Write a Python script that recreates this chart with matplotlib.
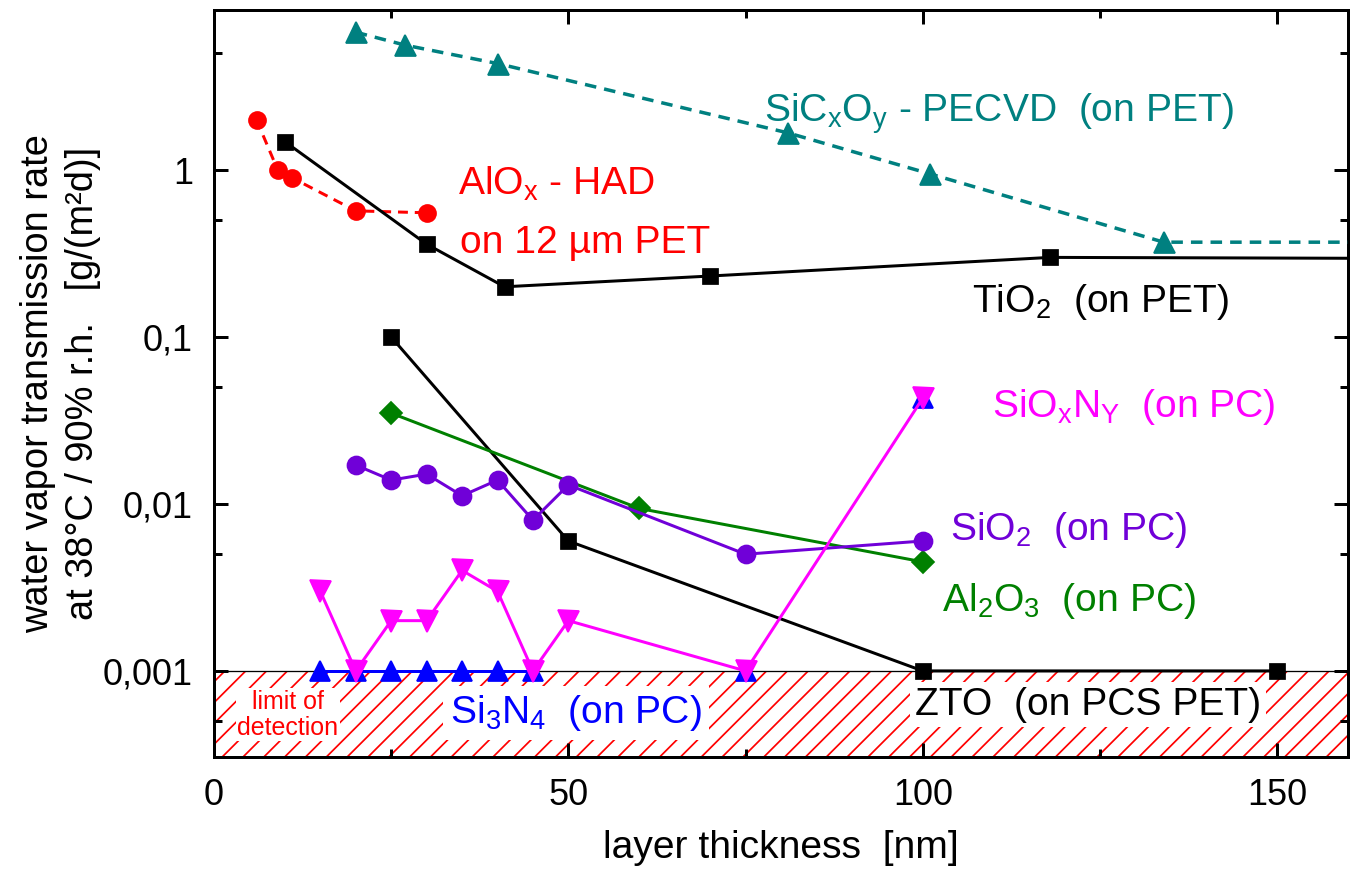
import matplotlib
matplotlib.use("Agg")
import matplotlib.pyplot as plt
from matplotlib import font_manager
from matplotlib.ticker import LogLocator, MultipleLocator, FuncFormatter

DPI = 125


def pt(px):
    # pixel size in the 1353x878 picture -> points
    return px * 72.0 / DPI


def have_font(name):
    try:
        font_manager.findfont(font_manager.FontProperties(family=name),
                              fallback_to_default=False)
        return True
    except ValueError:
        return False


# --- data -------------------------------------------------------------
sicxoy_x = [20, 27, 40, 81, 101, 134, 200]
sicxoy_y = [6.7, 5.6, 4.35, 1.67, 0.95, 0.37, 0.37]

alox_x = [6, 9, 11, 20, 30]
alox_y = [2.0, 1.0, 0.9, 0.57, 0.555]

tio2_x = [10, 30, 41, 70, 118, 200]
tio2_y = [1.48, 0.36, 0.20, 0.232, 0.30, 0.293]

zto_x = [25, 50, 100, 150]
zto_y = [0.1, 0.006, 0.001, 0.001]

sio2_x = [20, 25, 30, 35, 40, 45, 50, 75, 100]
sio2_y = [0.0171, 0.0139, 0.0151, 0.0112, 0.0139, 0.0080, 0.0130, 0.0050, 0.0060]

al2o3_x = [25, 60, 100]
al2o3_y = [0.035, 0.0094, 0.0045]

si3n4_x = [15, 20, 25, 30, 35, 40, 45]
si3n4_y = [0.001, 0.001, 0.001, 0.001, 0.001, 0.001, 0.001]
si3n4_extra_x = [75, 100]
si3n4_extra_y = [0.001, 0.043]

sioxny_x = [15, 20, 25, 30, 35, 40, 45, 50, 75, 100]
sioxny_y = [0.003, 0.001, 0.002, 0.002, 0.004, 0.003, 0.001, 0.002, 0.001, 0.043]

detection_limit = 0.001
y_ticks_labels = {1: "1", 0.1: "0,1", 0.01: "0,01", 0.001: "0,001"}

# --- style -------------------------------------------------------------
FONT = "Liberation Sans"
NARROW = "Liberation Sans Narrow" if have_font("Liberation Sans Narrow") else None
plt.rcParams["font.family"] = [FONT, "DejaVu Sans"]
plt.rcParams["hatch.linewidth"] = 1.0

LW = pt(3)
FS = pt(39)
TEAL, RED, PURPLE, GREEN, MAGENTA, BLUE = ("#008080", "#ff0000", "#7000d8",
                                           "#008000", "#ff00ff", "#0000ff")

fig = plt.figure(figsize=(1353 / DPI, 878 / DPI), dpi=DPI)
ax = fig.add_axes([214 / 1353, (878 - 757) / 878, 1134 / 1353, 747 / 878])
ax.set_yscale("log")
ax.set_xlim(0, 160)
ax.set_ylim(3.05e-4, 9.1)

# limit of detection area
ax.axhspan(1e-5, detection_limit, facecolor="white", edgecolor=RED,
           hatch="//", linewidth=0, zorder=0.5)
ax.axhline(detection_limit, color="black", lw=pt(1.3), zorder=0.6)

dash = (3.3, 2.3)
ax.plot(sicxoy_x, sicxoy_y, color=TEAL, lw=pt(3.5), dashes=dash,
        marker="^", ms=pt(21), zorder=4)
ax.plot(alox_x, alox_y, color=RED, lw=LW, dashes=dash,
        marker="o", ms=pt(17), zorder=4)
ax.plot(tio2_x, tio2_y, color="black", lw=LW, marker="s", ms=pt(15), zorder=4)
ax.plot(zto_x, zto_y, color="black", lw=LW, marker="s", ms=pt(15), zorder=4)
ax.plot(al2o3_x, al2o3_y, color=GREEN, lw=LW, marker="D", ms=pt(16), zorder=4)
ax.plot(sio2_x, sio2_y, color=PURPLE, lw=LW, marker="o", ms=pt(18), zorder=4)
ax.plot(si3n4_x, si3n4_y, color=BLUE, lw=LW, marker="^", ms=pt(20), zorder=4)
ax.plot(si3n4_extra_x, si3n4_extra_y, color=BLUE, lw=0, marker="^",
        ms=pt(20), zorder=4)
ax.plot(sioxny_x, sioxny_y, color=MAGENTA, lw=LW, marker="v", ms=pt(21), zorder=4)

# --- labels in the plot ------------------------------------------------
def label(x, y, s, color, **kw):
    ax.text(x, y, s, color=color, fontsize=FS, ha="left", va="baseline",
            zorder=3, **kw)


sub = lambda t: r"$_\mathregular{%s}$" % t
label(77.6, 1.94, "SiC" + sub("x") + "O" + sub("y") + " - PECVD  (on PET)", TEAL)
label(34.4, 0.708, "AlO" + sub("x") + " - HAD", RED)
label(34.7, 0.320, "on 12 µm PET", RED)
label(107.0, 0.141, "TiO" + sub("2") + "  (on PET)", "black")
label(109.8, 0.0332, "SiO" + sub("x") + "N" + sub("Y") + "  (on PC)", MAGENTA)
label(103.9, 0.00608, "SiO" + sub("2") + "  (on PC)", PURPLE)
label(102.7, 0.00229, "Al" + sub("2") + "O" + sub("3") + "  (on PC)", GREEN)
label(98.9, 5.46e-4, "ZTO  (on PCS PET)", "black",
      bbox=dict(boxstyle="square,pad=0.12", fc="white", ec="none"))
label(33.3, 4.89e-4, "Si" + sub("3") + "N" + sub("4") + "  (on PC)", BLUE,
      bbox=dict(boxstyle="square,pad=0.18", fc="white", ec="none"))
ax.text(10.4, 5.46e-4, "limit of\ndetection", color=RED, fontsize=pt(25),
        ha="center", va="center", linespacing=1.1, zorder=3,
        bbox=dict(boxstyle="square,pad=0.06", fc="white", ec="none"))

# --- axes --------------------------------------------------------------
ax.xaxis.set_major_locator(MultipleLocator(50))
ax.xaxis.set_minor_locator(MultipleLocator(25))
ax.yaxis.set_major_locator(LogLocator(base=10, numticks=20))
ax.yaxis.set_minor_locator(LogLocator(base=10, subs=(5,), numticks=20))
ax.yaxis.set_major_formatter(FuncFormatter(
    lambda v, p: y_ticks_labels.get(round(v, 6), f"{v:g}".replace(".", ","))))

ax.tick_params(which="both", direction="in", top=True, right=True,
               width=LW, labelsize=pt(36), pad=pt(21))
ax.tick_params(which="major", length=pt(14))
ax.tick_params(which="minor", length=pt(8))
for s in ax.spines.values():
    s.set_linewidth(LW)

if NARROW:
    ax.set_xlabel("layer thickness  [nm]", fontsize=pt(48), family=NARROW)
else:
    ax.set_xlabel("layer thickness  [nm]", fontsize=pt(39))
ax.xaxis.set_label_coords(0.5, -0.0977)
ax.set_ylabel("water vapor transmission rate\nat 38°C / 90% r.h.   [g/(m²d)]",
              fontsize=pt(38), linespacing=1.3)
ax.yaxis.set_label_coords(-0.10, 0.5)

fig.savefig("out.png", dpi=DPI)
